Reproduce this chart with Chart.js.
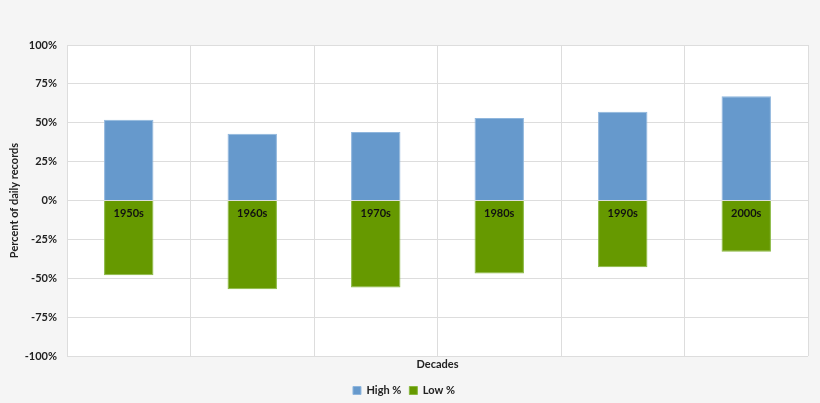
<!DOCTYPE html>
<html>
<head>
<meta charset="utf-8">
<script src="https://cdn.jsdelivr.net/npm/chart.js@4"></script>
<style>
  html, body { margin: 0; padding: 0; background: #f5f5f5; }
  #wrap { width: 820px; height: 403px; }
</style>
</head>
<body>
<div id="wrap"><canvas id="recordsChart"></canvas></div>
<script>
// decades and share of daily records (percent), low shown as negative
const decades = ["1950s", "1960s", "1970s", "1980s", "1990s", "2000s"];
const highPct = [52, 43, 44, 53, 57, 67];
const lowPct = [-48, -57, -56, -47, -43, -33];

const FONT = "Lato, 'Open Sans', sans-serif";

// white plot area on grey page
const plotBackground = {
    id: "plotBackground",
    beforeDraw(chart) {
        const { ctx, chartArea: a } = chart;
        ctx.save();
        ctx.fillStyle = "#f5f5f5";
        ctx.fillRect(0, 0, chart.width, chart.height);
        ctx.fillStyle = "#ffffff";
        ctx.fillRect(a.left, a.top, a.right - a.left, a.bottom - a.top);
        ctx.restore();
    }
};

// decade names written just under the zero line, inside the green bars
const decadeLabels = {
    id: "decadeLabels",
    afterDatasetsDraw(chart) {
        const { ctx, scales } = chart;
        const y0 = scales.y.getPixelForValue(0);
        ctx.save();
        ctx.font = "bold 11px " + FONT;
        ctx.fillStyle = "#111111";
        ctx.textAlign = "center";
        ctx.textBaseline = "middle";
        decades.forEach((d, i) => {
            ctx.fillText(d, scales.x.getPixelForValue(i), y0 + 13);
        });
        ctx.restore();
    }
};

new Chart(document.getElementById("recordsChart"), {
    type: "bar",
    data: {
        labels: decades,
        datasets: [
            {
                label: "High %",
                data: highPct,
                backgroundColor: "#6699cc",
                borderColor: "#8fb6dd",
                borderWidth: 1
            },
            {
                label: "Low %",
                data: lowPct,
                backgroundColor: "#669900",
                borderColor: "#88b840",
                borderWidth: 1
            }
        ]
    },
    options: {
        responsive: true,
        maintainAspectRatio: false,
        animation: false,
        layout: { padding: { top: 45, right: 12, left: 0, bottom: -3 } },
        datasets: { bar: { barPercentage: 0.4, categoryPercentage: 1 } },
        plugins: {
            tooltip: { enabled: false },
            legend: {
                position: "bottom",
                labels: {
                    boxWidth: 8,
                    boxHeight: 8,
                    padding: 8,
                    color: "#222222",
                    font: { family: FONT, size: 11, weight: "bold" }
                }
            }
        },
        scales: {
            x: {
                stacked: true,
                afterFit: (s) => { s.height = 21; },
                grid: { color: "#dddddd", drawTicks: false },
                border: { display: false },
                ticks: { display: false },
                title: {
                    display: true,
                    text: "Decades",
                    color: "#222222",
                    font: { family: FONT, size: 11, weight: "bold" },
                    padding: { top: 0, bottom: 6 }
                }
            },
            y: {
                stacked: true,
                min: -100,
                max: 100,
                afterFit: (s) => { s.width = 67; },
                grid: { color: "#dddddd", drawTicks: false },
                border: { color: "#dddddd" },
                ticks: {
                    stepSize: 25,
                    padding: 10,
                    color: "#222222",
                    font: { family: FONT, size: 11, weight: "bold" },
                    callback: (v) => v + "%"
                },
                title: {
                    display: true,
                    text: "Percent of daily records",
                    color: "#222222",
                    font: { family: FONT, size: 11, weight: "bold" },
                    padding: { top: 8, bottom: 0 }
                }
            }
        }
    },
    plugins: [plotBackground, decadeLabels]
});
</script>
</body>
</html>
